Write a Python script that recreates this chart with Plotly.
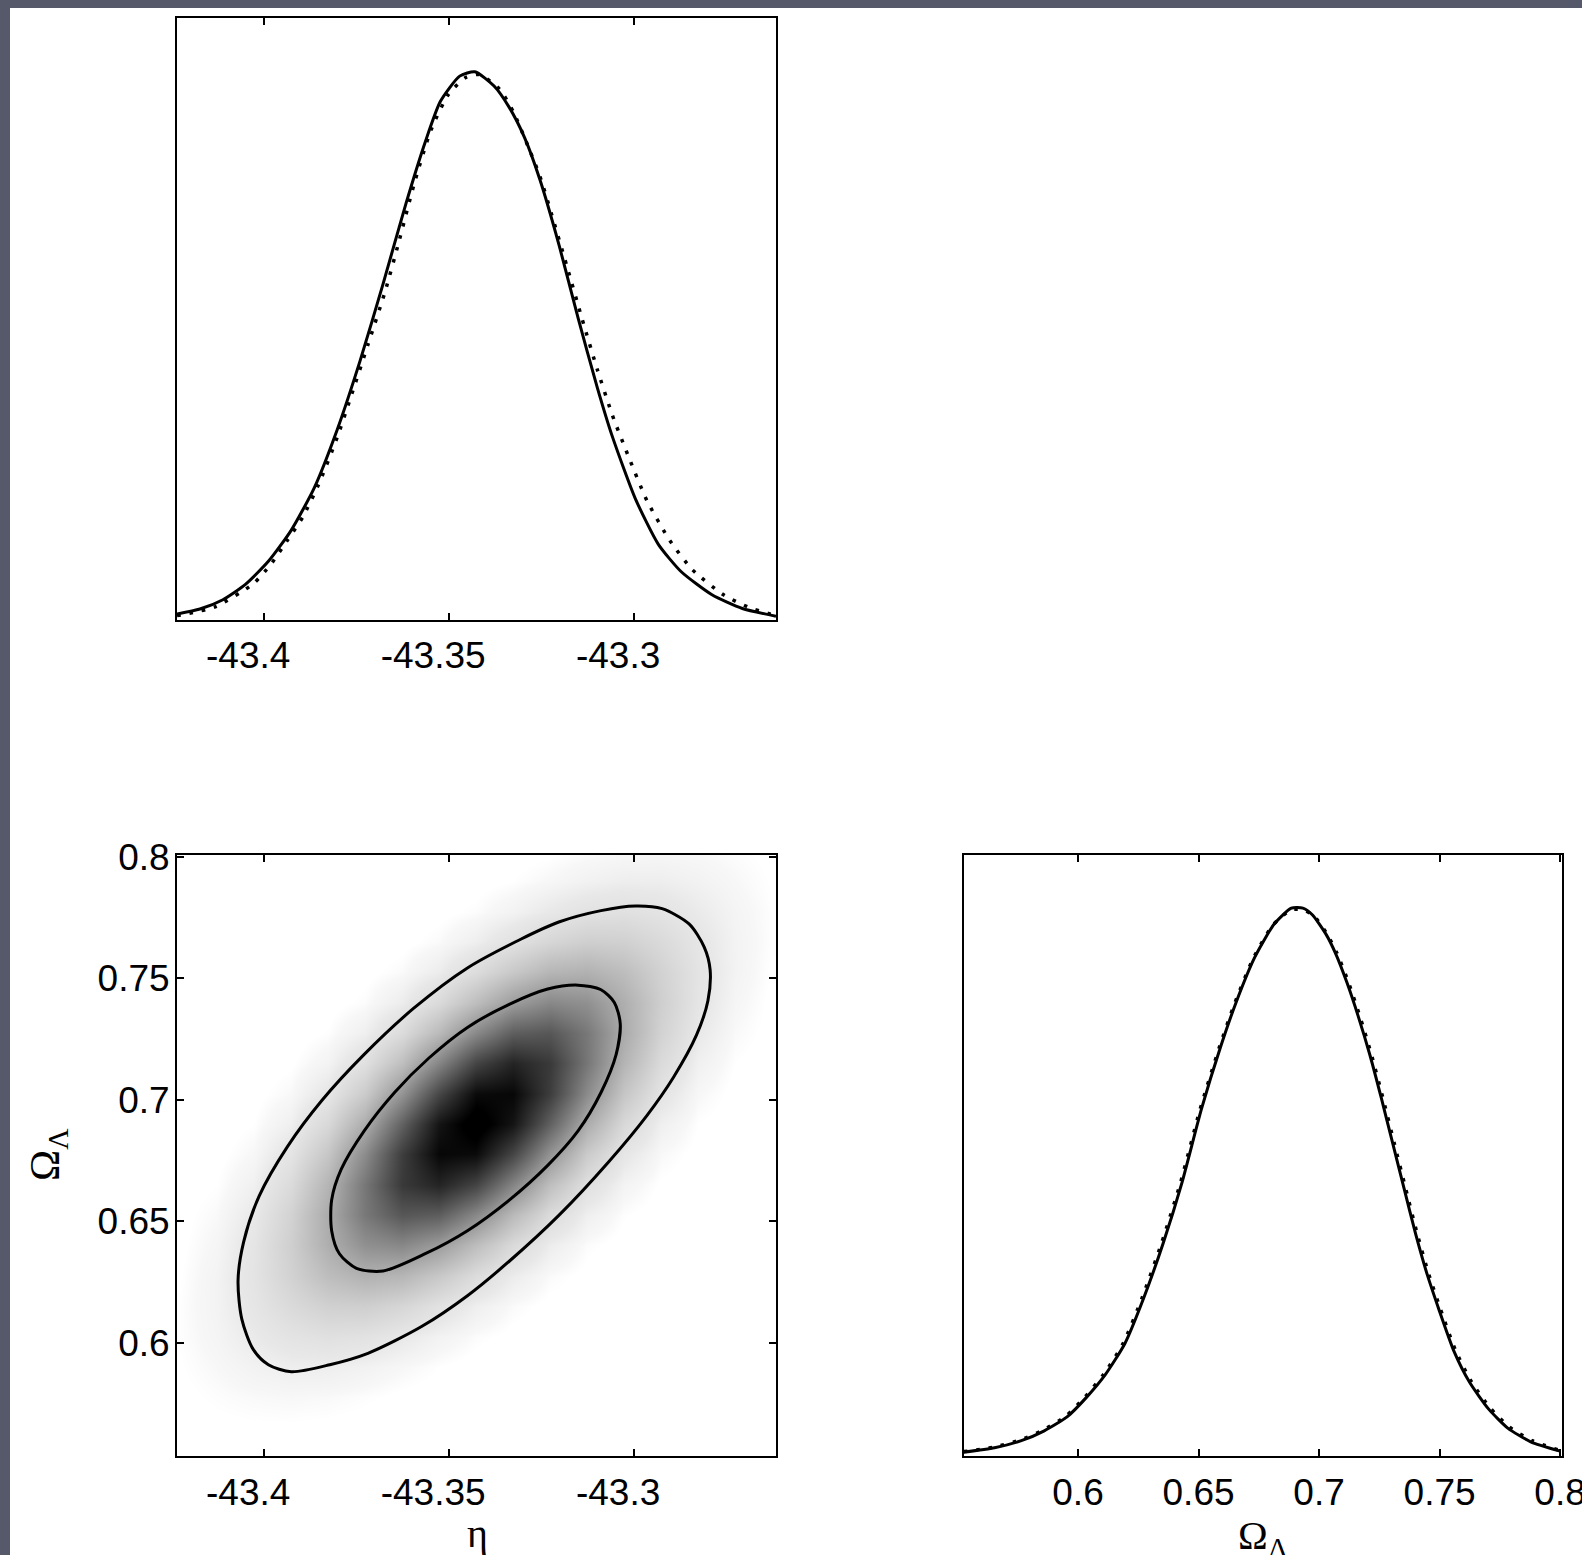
import plotly.graph_objects as go

# ---------------- data ----------------
eta_ticks = [-43.4, -43.35, -43.3]
eta_ticklabels = ["-43.4\u00a0\u00a0\u00a0", "-43.35\u00a0\u00a0\u00a0", "-43.3\u00a0\u00a0\u00a0"]
omega_ticks = [0.6, 0.65, 0.7, 0.75, 0.8]
omega_ticklabels = ["0.6", "0.65", "0.7", "0.75", "0.8"]

# 1D marginal of eta (solid = full posterior, dotted = comparison)
eta_solid = [-43.4234, -43.4172, -43.4110, -43.4049, -43.3987, -43.3925, -43.3863, -43.3801,
             -43.3739, -43.3677, -43.3615, -43.3563, -43.3522, -43.3470, -43.3429, -43.3377,
             -43.3336, -43.3294, -43.3253, -43.3201, -43.3150, -43.3098, -43.3057, -43.2995,
             -43.2933, -43.2871, -43.2788, -43.2706, -43.2615]
dens_eta_solid = [0.011, 0.020, 0.037, 0.065, 0.107, 0.164, 0.241, 0.347, 0.473, 0.613, 0.760,
                  0.872, 0.946, 0.992, 1.000, 0.974, 0.935, 0.879, 0.803, 0.683, 0.551, 0.424,
                  0.334, 0.221, 0.138, 0.088, 0.046, 0.021, 0.007]
eta_dotted = [-43.4234, -43.4131, -43.4028, -43.3981, -43.3935, -43.3894, -43.3852, -43.3801,
              -43.3765, -43.3718, -43.3672, -43.3635, -43.3594, -43.3548, -43.3501, -43.3455,
              -43.3418, -43.3362, -43.3325, -43.3284, -43.3253, -43.3222, -43.3181, -43.3139,
              -43.3098, -43.3057, -43.3016, -43.2964, -43.2902, -43.2840, -43.2757, -43.2685,
              -43.2615]
dens_eta_dotted = [0.008, 0.024, 0.066, 0.101, 0.146, 0.188, 0.246, 0.333, 0.405, 0.502, 0.598,
                   0.688, 0.793, 0.893, 0.958, 0.989, 0.995, 0.968, 0.927, 0.862, 0.809, 0.741,
                   0.647, 0.549, 0.457, 0.373, 0.302, 0.218, 0.145, 0.091, 0.046, 0.022, 0.008]

# 1D marginal of Omega_Lambda
omega_solid = [0.5526, 0.5654, 0.5765, 0.5860, 0.5956, 0.6035, 0.6114, 0.6194, 0.6273, 0.6353,
               0.6432, 0.6512, 0.6591, 0.6655, 0.6734, 0.6814, 0.6885, 0.6933, 0.6972, 0.7028,
               0.7068, 0.7115, 0.7163, 0.7211, 0.7258, 0.7306, 0.7354, 0.7401, 0.7449, 0.7497,
               0.7560, 0.7624, 0.7703, 0.7783, 0.7878, 0.8000]
dens_omega_solid = [0.007, 0.015, 0.028, 0.046, 0.072, 0.107, 0.149, 0.205, 0.289, 0.388, 0.500,
                    0.633, 0.746, 0.827, 0.911, 0.971, 1.000, 1.000, 0.988, 0.953, 0.918, 0.865,
                    0.802, 0.732, 0.654, 0.570, 0.486, 0.405, 0.331, 0.268, 0.191, 0.135, 0.086,
                    0.051, 0.026, 0.009]
omega_dotted = [0.5526, 0.5648, 0.5759, 0.5854, 0.5950, 0.6029, 0.6108, 0.6188, 0.6267, 0.6347,
                0.6426, 0.6506, 0.6585, 0.6649, 0.6728, 0.6808, 0.6885, 0.6933, 0.6978, 0.7034,
                0.7074, 0.7121, 0.7169, 0.7217, 0.7264, 0.7312, 0.7360, 0.7407, 0.7455, 0.7503,
                0.7566, 0.7630, 0.7709, 0.7789, 0.7884, 0.8000]
dens_omega_dotted = [0.008, 0.016, 0.029, 0.047, 0.073, 0.108, 0.150, 0.206, 0.290, 0.389, 0.500,
                     0.632, 0.744, 0.825, 0.909, 0.969, 0.997, 0.997, 0.986, 0.952, 0.918, 0.866,
                     0.803, 0.733, 0.655, 0.571, 0.487, 0.406, 0.332, 0.269, 0.193, 0.137, 0.088,
                     0.053, 0.028, 0.010]

# 2D joint density (grey shading), estimated on a grid (rows = Omega, columns = eta)
grid_eta = [-43.4225, -43.4125, -43.4025, -43.3925, -43.3825, -43.3725, -43.3625, -43.3525,
            -43.3425, -43.3325, -43.3225, -43.3125, -43.3025, -43.2925, -43.2825, -43.2725,
            -43.2625]
grid_omega = [0.5525, 0.5650, 0.5775, 0.5900, 0.6025, 0.6150, 0.6275, 0.6400, 0.6525, 0.6650,
              0.6775, 0.6900, 0.7025, 0.7150, 0.7275, 0.7400, 0.7525, 0.7650, 0.7775, 0.7900,
              0.8025]
grid_density = [
    [0.001, 0.002, 0.002, 0.002, 0.001, 0.000, 0.000, 0.000, 0.000, 0.000, 0.000, 0.000, 0.000, 0.000, 0.000, 0.000, 0.000],
    [0.002, 0.004, 0.005, 0.005, 0.004, 0.002, 0.001, 0.000, 0.000, 0.000, 0.000, 0.000, 0.000, 0.000, 0.000, 0.000, 0.000],
    [0.004, 0.009, 0.013, 0.015, 0.013, 0.009, 0.004, 0.002, 0.001, 0.000, 0.000, 0.000, 0.000, 0.000, 0.000, 0.000, 0.000],
    [0.006, 0.015, 0.026, 0.035, 0.035, 0.027, 0.016, 0.007, 0.002, 0.001, 0.000, 0.000, 0.000, 0.000, 0.000, 0.000, 0.000],
    [0.008, 0.021, 0.043, 0.066, 0.079, 0.071, 0.048, 0.025, 0.010, 0.003, 0.001, 0.000, 0.000, 0.000, 0.000, 0.000, 0.000],
    [0.008, 0.024, 0.058, 0.105, 0.145, 0.152, 0.121, 0.073, 0.034, 0.012, 0.003, 0.001, 0.000, 0.000, 0.000, 0.000, 0.000],
    [0.006, 0.024, 0.065, 0.138, 0.222, 0.271, 0.252, 0.177, 0.095, 0.039, 0.012, 0.003, 0.001, 0.000, 0.000, 0.000, 0.000],
    [0.004, 0.019, 0.061, 0.151, 0.282, 0.401, 0.433, 0.355, 0.222, 0.105, 0.038, 0.010, 0.002, 0.000, 0.000, 0.000, 0.000],
    [0.003, 0.013, 0.047, 0.136, 0.296, 0.491, 0.617, 0.590, 0.428, 0.236, 0.099, 0.032, 0.008, 0.001, 0.000, 0.000, 0.000],
    [0.001, 0.007, 0.030, 0.102, 0.258, 0.497, 0.729, 0.811, 0.686, 0.441, 0.215, 0.080, 0.023, 0.005, 0.001, 0.000, 0.000],
    [0.000, 0.003, 0.016, 0.063, 0.186, 0.418, 0.713, 0.924, 0.910, 0.681, 0.387, 0.167, 0.055, 0.014, 0.003, 0.000, 0.000],
    [0.000, 0.001, 0.007, 0.032, 0.111, 0.290, 0.577, 0.872, 1.000, 0.872, 0.577, 0.290, 0.111, 0.032, 0.007, 0.001, 0.000],
    [0.000, 0.000, 0.003, 0.014, 0.055, 0.167, 0.387, 0.681, 0.910, 0.924, 0.713, 0.418, 0.186, 0.063, 0.016, 0.003, 0.000],
    [0.000, 0.000, 0.001, 0.005, 0.023, 0.080, 0.215, 0.441, 0.686, 0.811, 0.729, 0.497, 0.258, 0.102, 0.030, 0.007, 0.001],
    [0.000, 0.000, 0.000, 0.001, 0.008, 0.032, 0.099, 0.236, 0.428, 0.590, 0.617, 0.491, 0.296, 0.136, 0.047, 0.013, 0.003],
    [0.000, 0.000, 0.000, 0.000, 0.002, 0.010, 0.038, 0.105, 0.222, 0.355, 0.433, 0.401, 0.282, 0.151, 0.061, 0.019, 0.004],
    [0.000, 0.000, 0.000, 0.000, 0.001, 0.003, 0.012, 0.039, 0.095, 0.177, 0.252, 0.271, 0.222, 0.138, 0.065, 0.024, 0.006],
    [0.000, 0.000, 0.000, 0.000, 0.000, 0.001, 0.003, 0.012, 0.034, 0.073, 0.121, 0.152, 0.145, 0.105, 0.058, 0.024, 0.008],
    [0.000, 0.000, 0.000, 0.000, 0.000, 0.000, 0.001, 0.003, 0.010, 0.025, 0.048, 0.071, 0.079, 0.066, 0.043, 0.021, 0.008],
    [0.000, 0.000, 0.000, 0.000, 0.000, 0.000, 0.000, 0.001, 0.002, 0.007, 0.016, 0.027, 0.035, 0.035, 0.026, 0.015, 0.006],
    [0.000, 0.000, 0.000, 0.000, 0.000, 0.000, 0.000, 0.000, 0.001, 0.002, 0.004, 0.009, 0.013, 0.015, 0.013, 0.009, 0.004],
]

# 95% and 68% credible contours
eta_c95 = [-43.2995, -43.2923, -43.2850, -43.2809, -43.2793, -43.2799, -43.2830, -43.2892,
           -43.2964, -43.3067, -43.3202, -43.3336, -43.3449, -43.3573, -43.3718, -43.3821,
           -43.3925, -43.3987, -43.4028, -43.4059, -43.4069, -43.4054, -43.4012, -43.3935,
           -43.3842, -43.3728, -43.3594, -43.3449, -43.3305, -43.3202, -43.3088, -43.2995]
omega_c95 = [0.7798, 0.7787, 0.7724, 0.7629, 0.7535, 0.7408, 0.7266, 0.7093, 0.6935, 0.6745,
             0.6524, 0.6335, 0.6193, 0.6066, 0.5956, 0.5909, 0.5880, 0.5909, 0.5972, 0.6098,
             0.6256, 0.6414, 0.6603, 0.6808, 0.6998, 0.7187, 0.7377, 0.7543, 0.7661, 0.7732,
             0.7779, 0.7798]
eta_c68 = [-43.3150, -43.3088, -43.3052, -43.3036, -43.3047, -43.3088, -43.3150, -43.3232,
           -43.3336, -43.3449, -43.3563, -43.3677, -43.3749, -43.3795, -43.3816, -43.3816,
           -43.3790, -43.3728, -43.3646, -43.3553, -43.3449, -43.3336, -43.3232, -43.3150]
omega_c68 = [0.7472, 0.7453, 0.7401, 0.7314, 0.7187, 0.7030, 0.6872, 0.6730, 0.6587, 0.6461,
             0.6366, 0.6295, 0.6306, 0.6366, 0.6461, 0.6587, 0.6714, 0.6872, 0.7030, 0.7172,
             0.7298, 0.7393, 0.7456, 0.7472]

# ---------------- layout helpers ----------------
W, H = 1582, 1555


def fx(p):
    return p / W


def fy(p):
    return 1 - p / H


BLACK = "black"
SANS = "Liberation Sans, Arial, Helvetica, sans-serif"
SERIF = "Liberation Serif, Times New Roman, serif"
DOTS = "3.5px,9px"
GREYS = [[0.0, "#ffffff"], [0.007, "#ffffff"], [0.016, "#f7f7f7"], [0.05, "#e8e8e8"],
         [0.35, "#a2a2a2"], [0.7, "#4a4a4a"], [1.0, "#000000"]]

fig = go.Figure()

# top-left: eta marginal
fig.add_trace(go.Scatter(x=eta_solid, y=dens_eta_solid, mode="lines", xaxis="x", yaxis="y",
                         line=dict(color=BLACK, width=3, shape="spline", smoothing=0.6),
                         hoverinfo="skip", showlegend=False))
fig.add_trace(go.Scatter(x=eta_dotted, y=dens_eta_dotted, mode="lines", xaxis="x", yaxis="y",
                         line=dict(color=BLACK, width=3.5, dash=DOTS, shape="spline",
                                   smoothing=0.6),
                         hoverinfo="skip", showlegend=False))

# bottom-left: joint density shading + credible contours
fig.add_trace(go.Heatmap(x=grid_eta, y=grid_omega, z=grid_density, xaxis="x2", yaxis="y2",
                         colorscale=GREYS, zmin=0, zmax=0.95,
                         zsmooth="best", showscale=False, hoverinfo="skip"))
fig.add_trace(go.Scatter(x=eta_c95, y=omega_c95, mode="lines", xaxis="x2", yaxis="y2",
                         line=dict(color=BLACK, width=3, shape="spline", smoothing=0.8),
                         hoverinfo="skip", showlegend=False))
fig.add_trace(go.Scatter(x=eta_c68, y=omega_c68, mode="lines", xaxis="x2", yaxis="y2",
                         line=dict(color=BLACK, width=3, shape="spline", smoothing=0.8),
                         hoverinfo="skip", showlegend=False))

# bottom-right: Omega marginal
fig.add_trace(go.Scatter(x=omega_solid, y=dens_omega_solid, mode="lines", xaxis="x3", yaxis="y3",
                         line=dict(color=BLACK, width=3, shape="spline", smoothing=0.6),
                         hoverinfo="skip", showlegend=False))
fig.add_trace(go.Scatter(x=omega_dotted, y=dens_omega_dotted, mode="lines", xaxis="x3",
                         yaxis="y3",
                         line=dict(color=BLACK, width=3.5, dash=DOTS, shape="spline",
                                   smoothing=0.6),
                         hoverinfo="skip", showlegend=False))

tickfont = dict(family=SANS, size=37, color=BLACK)
base = dict(showline=True, linecolor=BLACK, linewidth=2, showgrid=False, zeroline=False,
            ticks="inside", ticklen=7, tickwidth=1.5, tickcolor=BLACK, mirror="ticks",
            tickfont=tickfont, automargin=False)
noticks = dict(showline=True, linecolor=BLACK, linewidth=2, showgrid=False, zeroline=False,
               ticks="", mirror=True, showticklabels=False, automargin=False)

xl = [fx(177), fx(776)]
xr = [fx(964), fx(1562)]
yt = [fy(620), fy(18)]
yb = [fy(1456), fy(855)]

fig.update_layout(
    width=W, height=H,
    margin=dict(l=0, r=0, t=0, b=0, pad=0, autoexpand=False),
    paper_bgcolor="#555969",
    plot_bgcolor="white",
    showlegend=False,
    xaxis=dict(base, domain=xl, anchor="y", range=[-43.4234, -43.2615],
               tickvals=eta_ticks, ticktext=eta_ticklabels, ticklabelstandoff=2),
    yaxis=dict(noticks, domain=yt, anchor="x", range=[0, 1.098]),
    xaxis2=dict(base, domain=xl, anchor="y2", range=[-43.4234, -43.2615],
                tickvals=eta_ticks, ticktext=eta_ticklabels, ticklabelstandoff=3),
    yaxis2=dict(base, domain=yb, anchor="x2", range=[0.5533, 0.8008],
                tickvals=omega_ticks, ticktext=omega_ticklabels, ticklabelstandoff=-2),
    xaxis3=dict(base, domain=xr, anchor="y3", range=[0.5527, 0.8008],
                tickvals=omega_ticks, ticktext=omega_ticklabels, ticklabelstandoff=3,
                ticklabeloverflow="allow"),
    yaxis3=dict(noticks, domain=yb, anchor="x3", range=[0, 1.097]),
    shapes=[dict(type="rect", xref="paper", yref="paper", x0=fx(10), x1=1.0, y0=0.0,
                 y1=fy(8), fillcolor="white", line=dict(width=0), layer="below")],
    annotations=[
        dict(text="η", xref="paper", yref="paper", x=fx(477), y=fy(1533), showarrow=False,
             xanchor="center", yanchor="middle", font=dict(family=SERIF, size=40, color=BLACK)),
        dict(text="Ω<sub>Λ</sub>", xref="paper", yref="paper", x=fx(1263), y=fy(1538),
             showarrow=False, xanchor="center", yanchor="middle",
             font=dict(family=SERIF, size=40, color=BLACK)),
        dict(text="Ω<sub>Λ</sub>", xref="paper", yref="paper", x=fx(48), y=fy(1155),
             showarrow=False, textangle=-90, xanchor="center", yanchor="middle",
             font=dict(family=SERIF, size=42, color=BLACK)),
    ],
)

fig.write_html("out.html", config={"displayModeBar": False},
               post_script="document.body.style.margin='0px';"
                           "document.body.style.overflow='hidden';")
